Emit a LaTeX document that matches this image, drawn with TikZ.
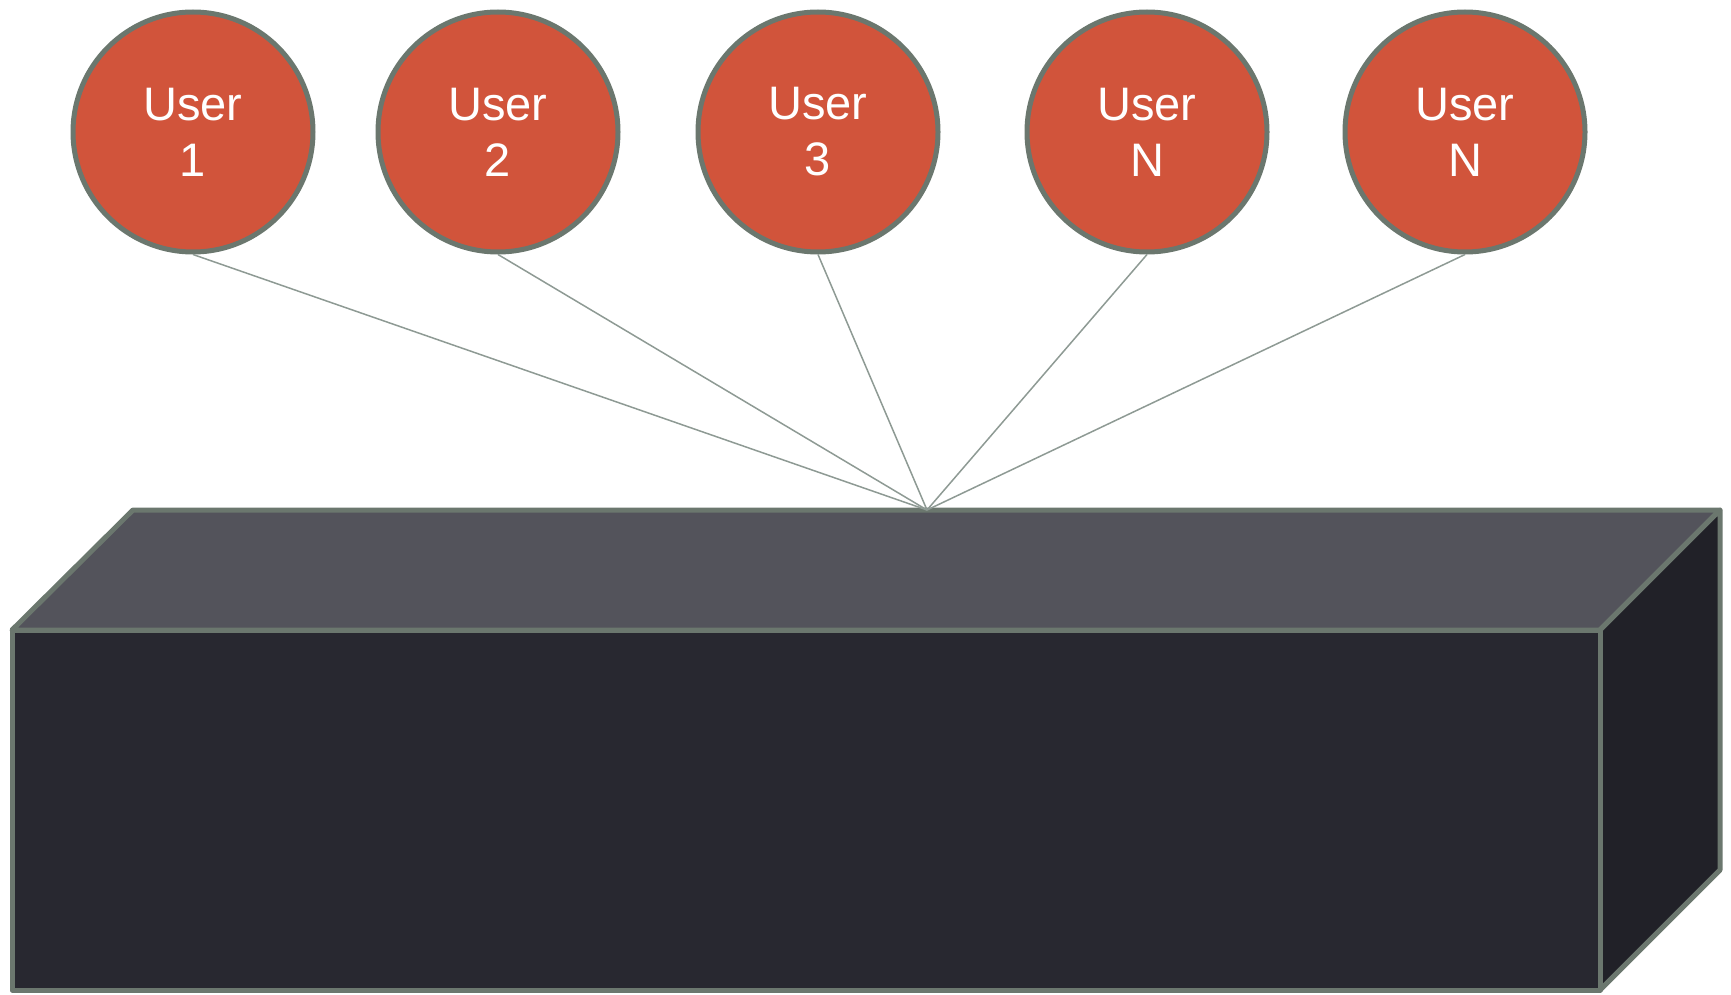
\documentclass[tikz,border=0pt]{standalone}
\usepackage{fontspec}
\setmainfont{Liberation Sans}
\usepackage{tikz}
\usetikzlibrary{positioning}
\usepackage{xcolor}

\definecolor{userred}{HTML}{D1543B}
\definecolor{edgegray}{HTML}{6B776E}
\definecolor{wiregray}{HTML}{8E9A94}
\definecolor{boxtop}{HTML}{53535B}
\definecolor{boxfront}{HTML}{282830}
\definecolor{boxside}{HTML}{212128}

\begin{document}
\begin{tikzpicture}[
    x=0.5pt, y=-0.5pt,
    user/.style={circle, draw=edgegray, fill=userred, line width=2.5pt, minimum size=120pt, inner sep=0pt, text=white, align=center, font=\fontsize{23.5}{28}\selectfont},
    face/.style={draw=edgegray, line width=2.5pt, line join=round},
    wire/.style={draw=wiregray, line width=0.75pt}
]
\useasboundingbox (0,0) rectangle (1731,995);

% Storage box
\path[face, fill=boxtop] (12,630) -- (133,510) -- (1720,510) -- (1600,630) -- cycle;
\path[face, fill=boxside] (1600,630) -- (1720,510) -- (1720,870) -- (1600,990) -- cycle;
\path[face, fill=boxfront] (12,630) rectangle (1600,990);
\coordinate (apex) at (927,510);

% Users
\node [user] (u1) at (193,132) {User\\1};
\node [user] (u2) at (498,132) {User\\2};
\node [user] (u3) at (818,132) {User\\3};
\node [user] (u4) at (1147,132) {User\\N};
\node [user] (u5) at (1465,132) {User\\N};

% Connections
\draw [wire] (u1.south) -- (apex);
\draw [wire] (u2.south) -- (apex);
\draw [wire] (u3.south) -- (apex);
\draw [wire] (u4.south) -- (apex);
\draw [wire] (u5.south) -- (apex);

\end{tikzpicture}
\end{document}
